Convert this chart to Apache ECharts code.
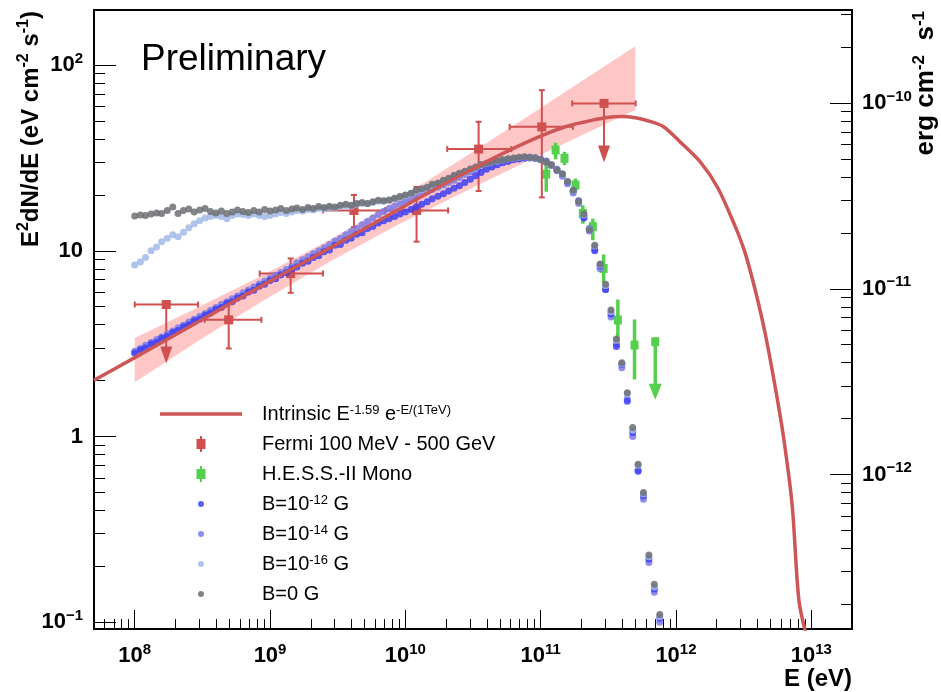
<!DOCTYPE html>
<html><head><meta charset="utf-8">
<script src="https://cdn.jsdelivr.net/npm/echarts@6/dist/echarts.min.js"></script>
<style>html,body{margin:0;padding:0;background:#fff}#chart{width:941px;height:692px}</style>
</head><body><div id="chart"></div>
<script>
// ================= DATA =================
// axis tick exponents
const xTickExp = [8, 9, 10, 11, 12, 13];
const yTickExp = [-1, 0, 1, 2];
const ergTickExp = [-12, -11, -10];
const EV_TO_ERG = 1.602e-12;

// Intrinsic spectrum E^-1.59 exp(-E/1TeV), E (eV) and E^2 dN/dE (eV cm^-2 s^-1)
const intrinsicE = [5e7, 1e8, 3e8, 1e9, 3e9, 1e10, 2e10, 4e10, 6e10, 1e11, 1.5e11, 2e11, 3e11, 4e11, 5e11, 6e11, 8e11,
  1.08e12, 1.53e12, 2.04e12, 2.72e12, 3.23e12, 3.84e12, 4.56e12, 5.42e12, 6.25e12, 7.23e12, 8.1e12, 9.2e12];
const intrinsicF = [2.01, 2.66, 4.18, 6.87, 10.7, 17.5, 23.2, 30.2, 35.1, 41.5, 46.4, 49.0, 52.1, 52.8, 52.1, 50.5, 46.9,
  38.4, 29.8, 21.8, 13.7, 9.84, 6.21, 3.60, 1.84, 0.983, 0.425, 0.1315, 0.085];

// Fermi butterfly
const bandE  = [1.0e8, 3.0e8, 8.4e8, 2.8e9, 9.1e9, 3.0e10, 9.8e10, 5.0e11];
const bandLo = [1.96, 3.30, 5.25, 8.78, 14.0, 21.5, 32.7, 57.3];
const bandHi = [3.39, 5.00, 7.25, 11.5, 19.2, 33.3, 58.2, 126.5];

// Fermi points
const fermiE   = [1.71e8, 4.95e8, 1.42e9, 4.17e9, 1.21e10, 3.48e10, 1.02e11, 2.94e11];
const fermiELo = [1.00e8, 3.29e8, 8.39e8, 2.46e9, 7.10e9, 2.04e10, 5.90e10, 1.71e11];
const fermiEHi = [2.94e8, 8.63e8, 2.46e9, 7.10e9, 2.07e10, 6.07e10, 1.73e11, 5.04e11];
const fermiF   = [5.14, 4.25, 7.55, 16.5, 16.5, 35.3, 46.5, 62.2];
const fermiFLo = [null, 2.98, 5.94, 13.4, 11.2, 21.0, 19.4, null];
const fermiFHi = [null, 5.40, 9.10, 20.0, 22.1, 49.5, 73.3, null];
const fermiUL  = [1, 0, 0, 0, 0, 0, 0, 1];

// H.E.S.S.-II Mono points
const hessE   = [1.10e11, 1.29e11, 1.50e11, 1.81e11, 2.05e11, 2.43e11, 2.92e11, 3.72e11, 4.94e11, 7.03e11];
const hessF   = [25.9, 34.9, 31.5, 22.6, 15.9, 13.5, 8.04, 4.24, 3.11, 3.24];
const hessFLo = [20.8, 31.1, 28.9, 20.8, 14.0, 11.4, 6.68, 3.04, 2.03, null];
const hessFHi = [30.2, 38.2, 34.1, 24.5, 17.6, 14.9, 9.56, 5.47, 4.27, null];
const hessUL  = [0, 0, 0, 0, 0, 0, 0, 0, 0, 1];

// cascade simulations: energy bins (eV)
const cascadeE = [
  1.00e8, 1.10e8, 1.20e8, 1.32e8, 1.45e8, 1.58e8, 1.74e8, 1.91e8, 2.09e8, 2.29e8, 2.51e8, 2.75e8, 3.02e8,
  3.31e8, 3.63e8, 3.98e8, 4.37e8, 4.79e8, 5.25e8, 5.75e8, 6.31e8, 6.92e8, 7.59e8, 8.32e8, 9.12e8,
  1.00e9, 1.10e9, 1.20e9, 1.32e9, 1.45e9, 1.58e9, 1.74e9, 1.91e9, 2.09e9, 2.29e9, 2.51e9, 2.75e9, 3.02e9,
  3.31e9, 3.63e9, 3.98e9, 4.37e9, 4.79e9, 5.25e9, 5.75e9, 6.31e9, 6.92e9, 7.59e9, 8.32e9, 9.12e9,
  1.00e10, 1.10e10, 1.20e10, 1.32e10, 1.45e10, 1.58e10, 1.74e10, 1.91e10, 2.09e10, 2.29e10, 2.51e10, 2.75e10, 3.02e10,
  3.31e10, 3.63e10, 3.98e10, 4.37e10, 4.79e10, 5.25e10, 5.75e10, 6.31e10, 6.92e10, 7.59e10, 8.32e10, 9.12e10,
  1.00e11, 1.10e11, 1.20e11, 1.32e11, 1.45e11, 1.58e11, 1.74e11, 1.91e11, 2.09e11, 2.29e11, 2.51e11, 2.75e11, 3.02e11,
  3.31e11, 3.63e11, 3.98e11, 4.37e11, 4.79e11, 5.25e11, 5.75e11, 6.31e11, 6.92e11, 7.59e11];
const fluxB12 = [
  2.81, 2.93, 3.00, 3.15, 3.22, 3.38, 3.46, 3.63, 3.72, 3.90, 4.00, 4.20, 4.30, 4.50, 4.62, 4.84, 4.95, 5.20, 5.32, 5.58,
  5.72, 6.00, 6.14, 6.45, 6.60, 6.92, 7.08, 7.42, 7.62, 7.98, 8.18, 8.58, 8.78, 9.20, 9.42, 9.90, 10.1, 10.7, 10.8, 11.4,
  11.7, 12.3, 12.5, 13.2, 13.5, 14.1, 14.5, 14.9, 15.3, 15.8, 16.2, 16.7, 17.2, 17.8, 18.4, 19.1, 19.7, 20.3, 21.0, 21.7,
  22.4, 23.3, 24.3, 25.4, 26.4, 27.5, 28.3, 29.1, 29.8, 30.3, 30.9, 31.2, 31.5, 31.6, 31.4, 30.9,
  30.2, 28.8, 27.5, 25.7, 23.4, 20.9, 18.6, 15.0, 13.2, 10.0, 8.32, 6.20, 4.57, 3.05, 2.45, 1.55, 1.05, 0.65, 0.48, 0.219, 0.151, 0.105];
const fluxB14 = [
  2.88, 2.98, 3.10, 3.21, 3.33, 3.44, 3.58, 3.70, 3.85, 3.98, 4.14, 4.28, 4.45, 4.60, 4.78, 4.95, 5.14, 5.32, 5.52, 5.72,
  5.94, 6.15, 6.38, 6.62, 6.86, 7.12, 7.38, 7.65, 7.94, 8.24, 8.63, 8.95, 9.30, 9.63, 10.0, 10.4, 10.8, 11.3, 11.7, 12.2,
  12.7, 13.2, 13.8, 14.4, 15.0, 15.7, 16.3, 16.9, 17.4, 17.9, 18.4, 18.9, 19.5, 20.1, 20.8, 21.4, 22.0, 22.6, 23.3, 24.0,
  24.9, 25.8, 26.6, 27.5, 28.3, 29.0, 29.6, 30.1, 30.6, 31.0, 31.3, 31.6, 31.9, 32.0, 31.8, 31.2,
  30.5, 29.2, 27.0, 25.2, 23.0, 20.5, 18.0, 15.2, 12.8, 10.2, 8.0, 6.2, 4.4, 3.15, 2.35, 1.60, 1.00, 0.66, 0.46, 0.21, 0.145, 0.10];
const fluxB16 = [
  8.4, 8.7, 9.2, 10.0, 10.5, 11.2, 11.7, 12.2, 11.9, 12.6, 13.3, 14.0, 14.5, 15.0, 15.3, 15.5, 15.3, 14.9, 15.5, 15.8,
  15.7, 15.5, 15.8, 15.5, 15.3, 15.5, 15.8, 16.1, 15.9, 16.2, 16.5, 16.4, 16.7, 16.6, 16.9, 16.8, 17.1, 17.0, 17.4, 17.5,
  17.4, 17.8, 18.0, 17.9, 18.2, 18.5, 18.5, 18.7, 19.0, 19.4, 19.8, 20.2, 20.9, 21.4, 21.8, 22.5, 23.0, 23.7, 24.4, 25.2,
  25.9, 26.6, 27.4, 28.1, 29.0, 29.4, 30.0, 30.4, 30.8, 31.2, 31.5, 31.8, 32.0, 31.7, 31.5, 30.9,
  30.0, 28.9, 27.3, 25.8, 23.5, 21.0, 18.3, 15.6, 13.1, 10.6, 8.4, 6.5, 4.7, 3.3, 2.47, 1.70, 1.08, 0.70, 0.49, 0.225, 0.155, 0.107];
const fluxB0 = [
  15.4, 15.6, 15.5, 15.8, 16.0, 15.9, 16.5, 17.2, 15.9, 16.5, 16.8, 16.2, 16.6, 16.9, 16.3, 16.0, 16.4, 15.9, 16.2, 16.6,
  16.3, 16.1, 16.5, 16.2, 16.7, 16.4, 16.6, 16.9, 16.5, 16.8, 17.0, 16.7, 17.1, 16.9, 17.3, 17.1, 17.4, 17.2, 17.6, 17.8,
  17.6, 18.0, 18.2, 18.0, 18.4, 18.7, 18.6, 18.8, 19.2, 19.6, 20.0, 20.4, 21.2, 21.6, 22.0, 22.8, 23.2, 24.0, 24.6, 25.5,
  26.2, 26.8, 27.6, 28.3, 29.2, 29.6, 30.2, 30.6, 30.9, 31.3, 31.6, 31.9, 32.1, 31.8, 31.6, 31.0,
  30.0, 29.0, 27.2, 26.0, 23.6, 21.2, 18.4, 15.8, 13.0, 10.7, 8.5, 6.6, 4.8, 3.35, 2.50, 1.72, 1.12, 0.71, 0.50, 0.23, 0.16, 0.11];

// ================= CHART =================
const FONT = 'Liberation Sans, Arial, Helvetica, sans-serif';
const lg = Math.log10;
const xMin = lg(5e7), xMax = lg(2e13);
const yMin = lg(0.092), yMax = lg(198);
const ergShift = lg(EV_TO_ERG);

function minorLogTicks(lo, hi) {
  const out = [];
  for (let n = Math.floor(lo) - 1; n <= Math.ceil(hi); n++) {
    for (let k = 2; k <= 9; k++) {
      const v = n + lg(k);
      if (v > lo + 1e-4 && v < hi - 1e-4) out.push(v);
    }
  }
  return out;
}

const tickStyle = { color: '#000', width: 1 };
const noLine = { show: false, onZero: false };
const labRich = {
  b: { fontSize: 22, fontWeight: 'bold', fontFamily: FONT, color: '#000', lineHeight: 28 },
  s: { fontSize: 15, fontWeight: 'bold', fontFamily: FONT, color: '#000', lineHeight: 14, verticalAlign: 'top' }
};
function powLabel(e) {
  if (e === 0) return '{b|1}';
  if (e === 1) return '{b|10}';
  return '{b|10}{s|' + String(e).replace('-', '\u2212') + '}';
}

function pairs(E, F) { return E.map((e, i) => [lg(e), lg(F[i])]); }

function errorSeries(name, color, E, F, ELo, EHi, FLo, FHi, UL, o) {
  return {
    name: name, type: 'custom', clip: true,
    itemStyle: { color: color },
    data: pairs(E, F),
    encode: { x: 0, y: 1 },
    renderItem: function (params, api) {
      const i = params.dataIndex;
      const x = api.value(0), y = api.value(1);
      const c = api.coord([x, y]);
      const st = { stroke: color, lineWidth: o.lw, fill: null };
      const ch = [];
      if (ELo) {
        const l = api.coord([lg(ELo[i]), y]), r = api.coord([lg(EHi[i]), y]);
        ch.push({ type: 'line', shape: { x1: l[0], y1: c[1], x2: r[0], y2: c[1] }, style: st });
        if (o.cap) {
          ch.push({ type: 'line', shape: { x1: l[0], y1: c[1] - o.cap, x2: l[0], y2: c[1] + o.cap }, style: st });
          ch.push({ type: 'line', shape: { x1: r[0], y1: c[1] - o.cap, x2: r[0], y2: c[1] + o.cap }, style: st });
        }
      }
      if (!UL[i]) {
        const t = api.coord([x, lg(FHi[i])]), b = api.coord([x, lg(FLo[i])]);
        ch.push({ type: 'line', shape: { x1: c[0], y1: t[1], x2: c[0], y2: b[1] }, style: st });
        if (o.cap) {
          ch.push({ type: 'line', shape: { x1: c[0] - o.cap, y1: t[1], x2: c[0] + o.cap, y2: t[1] }, style: st });
          ch.push({ type: 'line', shape: { x1: c[0] - o.cap, y1: b[1], x2: c[0] + o.cap, y2: b[1] }, style: st });
        }
      } else {
        ch.push({ type: 'line', shape: { x1: c[0], y1: c[1], x2: c[0], y2: c[1] + o.neck + 2 }, style: st });
        ch.push({ type: 'polygon', shape: { points: [[c[0] - o.aw / 2, c[1] + o.neck], [c[0] + o.aw / 2, c[1] + o.neck], [c[0], c[1] + o.alen]] }, style: { fill: color } });
      }
      ch.push({ type: 'rect', shape: { x: c[0] - o.sw / 2, y: c[1] - o.sh / 2, width: o.sw, height: o.sh }, style: { fill: color } });
      return { type: 'group', children: ch };
    }
  };
}

function dotSeries(name, color, F) {
  return {
    name: name, type: 'scatter', symbol: 'circle', symbolSize: 7,
    itemStyle: { color: color, opacity: 0.85 },
    data: pairs(cascadeE, F), clip: true
  };
}

const fermiColor = '#d04f4f', hessColor = '#55d04c', lineColor = '#cd5656';
const barIcon = 'path://M3.5,0H5.5V3H9V13H5.5V16H3.5V13H0V3H3.5Z';
const dotIcon = 'path://M0,0M16,16M5,8A3,3,0,1,1,11,8A3,3,0,1,1,5,8Z';
const lineIcon = 'path://M0,0H82V3.5H0Z';

const legendText = {
  'Intrinsic': '{p|Intrinsic E}{s|-1.59}{n| e}{s|-E/(1TeV)}',
  'Fermi 100 MeV - 500 GeV': '{p|Fermi 100 MeV - 500 GeV}',
  'H.E.S.S.-II Mono': '{p|H.E.S.S.-II Mono}',
  'B=1e-12 G': '{p|B=10}{s|-12}{n| G}',
  'B=1e-14 G': '{p|B=10}{s|-14}{n| G}',
  'B=1e-16 G': '{p|B=10}{s|-16}{n| G}',
  'B=0 G': '{p|B=0 G}'
};

const chart = echarts.init(document.getElementById('chart'), null, { renderer: 'canvas' });
chart.setOption({
  animation: false,
  backgroundColor: '#fff',
  textStyle: { fontFamily: FONT },
  title: { text: 'Preliminary', left: 141, top: 41, padding: 0,
    textStyle: { fontSize: 37, fontWeight: 'normal', color: '#000', fontFamily: FONT } },
  grid: { left: 94, right: 89, top: 10, bottom: 63, show: true, borderColor: '#000', borderWidth: 2, backgroundColor: 'transparent' },
  legend: {
    orient: 'vertical', left: 160, top: 404, padding: 0, itemWidth: 82, itemHeight: 16, itemGap: 10,
    selectedMode: false,
    data: [
      { name: 'Intrinsic', icon: lineIcon },
      { name: 'Fermi 100 MeV - 500 GeV', icon: barIcon },
      { name: 'H.E.S.S.-II Mono', icon: barIcon },
      { name: 'B=1e-12 G', icon: dotIcon },
      { name: 'B=1e-14 G', icon: dotIcon },
      { name: 'B=1e-16 G', icon: dotIcon },
      { name: 'B=0 G', icon: dotIcon }
    ],
    formatter: function (n) { return legendText[n] || n; },
    textStyle: {
      color: '#000', fontFamily: FONT, fontSize: 20, lineHeight: 20,
      rich: {
        p: { fontSize: 20, fontFamily: FONT, color: '#000', lineHeight: 20, padding: [0, 0, 0, 15] },
        n: { fontSize: 20, fontFamily: FONT, color: '#000', lineHeight: 20 },
        s: { fontSize: 13, fontFamily: FONT, color: '#000', lineHeight: 5, verticalAlign: 'top' }
      }
    }
  },
  xAxis: [
    { type: 'value', min: xMin, max: xMax, position: 'bottom',
      axisLine: noLine, splitLine: { show: false },
      axisTick: { inside: true, length: 19, customValues: xTickExp, lineStyle: tickStyle },
      axisLabel: { customValues: xTickExp, margin: 13, formatter: v => powLabel(Math.round(v)), rich: labRich } },
    { type: 'value', min: xMin, max: xMax, position: 'bottom',
      axisLine: noLine, splitLine: { show: false }, axisLabel: { show: false },
      axisTick: { inside: true, length: 10, customValues: minorLogTicks(xMin, xMax), lineStyle: tickStyle } }
  ],
  yAxis: [
    { type: 'value', min: yMin, max: yMax, position: 'left',
      axisLine: noLine, splitLine: { show: false },
      axisTick: { inside: true, length: 22, customValues: yTickExp, lineStyle: tickStyle },
      axisLabel: { customValues: yTickExp, margin: 11, formatter: v => powLabel(Math.round(v)), rich: labRich } },
    { type: 'value', min: yMin, max: yMax, position: 'left',
      axisLine: noLine, splitLine: { show: false }, axisLabel: { show: false },
      axisTick: { inside: true, length: 11, customValues: minorLogTicks(yMin, yMax), lineStyle: tickStyle } },
    { type: 'value', min: yMin + ergShift, max: yMax + ergShift, position: 'right',
      axisLine: noLine, splitLine: { show: false },
      axisTick: { inside: true, length: 22, customValues: ergTickExp, lineStyle: tickStyle },
      axisLabel: { customValues: ergTickExp, margin: 10, formatter: v => powLabel(Math.round(v)), rich: labRich } },
    { type: 'value', min: yMin + ergShift, max: yMax + ergShift, position: 'right',
      axisLine: noLine, splitLine: { show: false }, axisLabel: { show: false },
      axisTick: { inside: true, length: 11, customValues: minorLogTicks(yMin + ergShift, yMax + ergShift), lineStyle: tickStyle } }
  ],
  graphic: [
    { type: 'text', x: 31, y: 11, rotation: Math.PI / 2, z: 10,
      style: { text: '{b|E}{s|2}{b|dN/dE (eV cm}{s|-2}{b| s}{s|-1}{b|)}', align: 'right', verticalAlign: 'middle', fill: '#000',
        rich: { b: { fontSize: 24, fontWeight: 'bold', fontFamily: FONT, lineHeight: 30, fill: '#000' },
                s: { fontSize: 16, fontWeight: 'bold', fontFamily: FONT, lineHeight: 16, verticalAlign: 'top', fill: '#000' } } } },
    { type: 'text', x: 926, y: 11, rotation: Math.PI / 2, z: 10,
      style: { text: '{b|erg cm}{s|-2}{b|  s}{s|-1}', align: 'right', verticalAlign: 'middle', fill: '#000',
        rich: { b: { fontSize: 26, fontWeight: 'bold', fontFamily: FONT, lineHeight: 30, fill: '#000' },
                s: { fontSize: 17, fontWeight: 'bold', fontFamily: FONT, lineHeight: 16, verticalAlign: 'top', fill: '#000' } } } },
    { type: 'text', x: 852, y: 679, z: 10,
      style: { text: 'E (eV)', align: 'right', verticalAlign: 'middle', fill: '#000',
        font: 'bold 24px ' + FONT } }
  ],
  series: [
    { name: 'Fermi band', type: 'custom', clip: true, silent: true,
      data: bandE.map((e, i) => [lg(e), lg(bandLo[i]), lg(bandHi[i])]),
      encode: { x: 0, y: [1, 2] },
      renderItem: function (params, api) {
        if (params.dataIndex !== 0) return null;
        const pts = [];
        for (let i = 0; i < bandE.length; i++) pts.push(api.coord([lg(bandE[i]), lg(bandHi[i])]));
        for (let i = bandE.length - 1; i >= 0; i--) pts.push(api.coord([lg(bandE[i]), lg(bandLo[i])]));
        return { type: 'polygon', shape: { points: pts }, style: { fill: '#ffc6c6' } };
      } },
    { name: 'Intrinsic', type: 'line', data: pairs(intrinsicE, intrinsicF), symbol: 'none', showSymbol: false, smooth: 0.3,
      lineStyle: { color: lineColor, width: 3.5 }, itemStyle: { color: lineColor }, clip: true },
    dotSeries('B=1e-14 G', '#7b7be6', fluxB14),
    dotSeries('B=1e-12 G', '#4040f5', fluxB12),
    dotSeries('B=1e-16 G', '#a2b8e8', fluxB16),
    dotSeries('B=0 G', '#6c6e72', fluxB0),
    errorSeries('H.E.S.S.-II Mono', hessColor, hessE, hessF, null, null, hessFLo, hessFHi, hessUL,
      { lw: 3.5, cap: 0, sw: 8, sh: 9, neck: 42, alen: 58, aw: 13 }),
    errorSeries('Fermi 100 MeV - 500 GeV', fermiColor, fermiE, fermiF, fermiELo, fermiEHi, fermiFLo, fermiFHi, fermiUL,
      { lw: 2, cap: 3, sw: 9, sh: 9, neck: 42, alen: 59, aw: 12 })
  ]
});
</script>
</body></html>
